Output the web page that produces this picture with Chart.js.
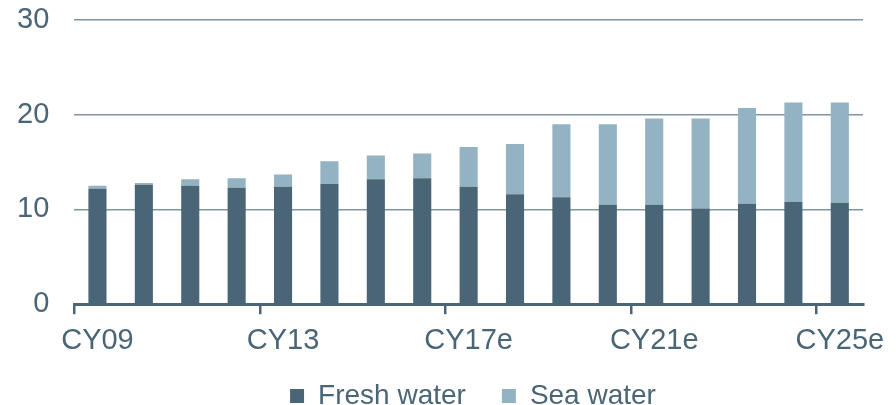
<!DOCTYPE html>
<html>
<head>
<meta charset="utf-8">
<script src="https://cdn.jsdelivr.net/npm/chart.js@4"></script>
<style>
  body { margin: 0; background: #fff; }
  #wrap { width: 896px; height: 405px; position: relative; }
</style>
</head>
<body>
<div id="wrap"><canvas id="waterchart"></canvas></div>
<script>
const categories = ['CY09', 'CY10', 'CY11', 'CY12', 'CY13', 'CY14', 'CY15', 'CY16', 'CY17e',
  'CY18e', 'CY19e', 'CY20e', 'CY21e', 'CY22e', 'CY23e', 'CY24e', 'CY25e'];
const freshWater = [12.2, 12.6, 12.5, 12.3, 12.4, 12.7, 13.2, 13.3, 12.4, 11.6, 11.3, 10.5, 10.5, 10.1, 10.6, 10.8, 10.7];
const seaWater = [0.3, 0.2, 0.7, 1.0, 1.3, 2.4, 2.5, 2.6, 4.2, 5.3, 7.7, 8.5, 9.1, 9.5, 10.1, 10.5, 10.6];
const shownLabels = ['CY09', 'CY13', 'CY17e', 'CY21e', 'CY25e'];
const yMin = 0, yMax = 30, yStep = 10;

function chart(){

  const dark = '#4a6576';
  const light = '#93b2c2';
  const family = "'Liberation Sans', Arial, sans-serif";
  const tickFont = { family, size: 29 };
  const legendFont = { family, size: 28 };

  // legend sits a little right of centre and higher than chart.js puts it
  const legendShift = {
    id: 'legendShift',
    afterLayout(c) {
      const l = c.legend;
      l.left += 33; l.right += 33;
      l.top -= 21; l.bottom -= 21;
    }
  };

  const data = {
    labels: categories,
    datasets: [{
      label: 'Fresh water',
      data: freshWater,
      backgroundColor: dark,
      barPercentage: 0.39,
      categoryPercentage: 1
    }, {
      label: 'Sea water',
      data: seaWater,
      backgroundColor: light,
      barPercentage: 0.39,
      categoryPercentage: 1
    }]
  };

  const config = {
    type: 'bar',
    data,
    plugins: [legendShift],
    options: {
      responsive: true,
      maintainAspectRatio: false,
      animation: false,
      layout: { padding: { top: 20, left: 17, right: 33, bottom: -36 } },
      plugins: {
        tooltip: { enabled: false },
        legend: {
          position: 'bottom',
          labels: { boxWidth: 14, boxHeight: 14, padding: 36, color: dark, font: legendFont }
        }
      },
      scales: {
        x: {
          stacked: true,
          border: { display: true, color: dark, width: 3 },
          grid: {
            drawOnChartArea: false,
            drawTicks: true,
            tickLength: 10,
            lineWidth: 2.5,
            tickColor: (ctx) => ctx.index % 4 === 0 && ctx.index < categories.length ? dark : 'rgba(0,0,0,0)',
            color: 'rgba(0,0,0,0)'
          },
          ticks: {
            autoSkip: false,
            maxRotation: 0,
            padding: 9,
            color: dark,
            font: tickFont,
            callback: (v, i) => shownLabels.includes(categories[i]) ? categories[i] : ''
          },
          afterFit: (s) => { s.paddingLeft = 0; s.paddingRight = 0; }
        },
        y: {
          stacked: true,
          min: yMin,
          max: yMax,
          border: { display: false },
          grid: { color: '#7f95a3', lineWidth: 1.5, drawTicks: false },
          ticks: { stepSize: yStep, padding: 25, color: dark, font: tickFont },
          afterFit: (s) => { s.paddingTop = 0; s.paddingBottom = 0; s.width -= 25; }
        }
      }
    }
  };

  new Chart(document.getElementById('waterchart'), config);
};
window.addEventListener('load', chart);
</script>
</body>
</html>
